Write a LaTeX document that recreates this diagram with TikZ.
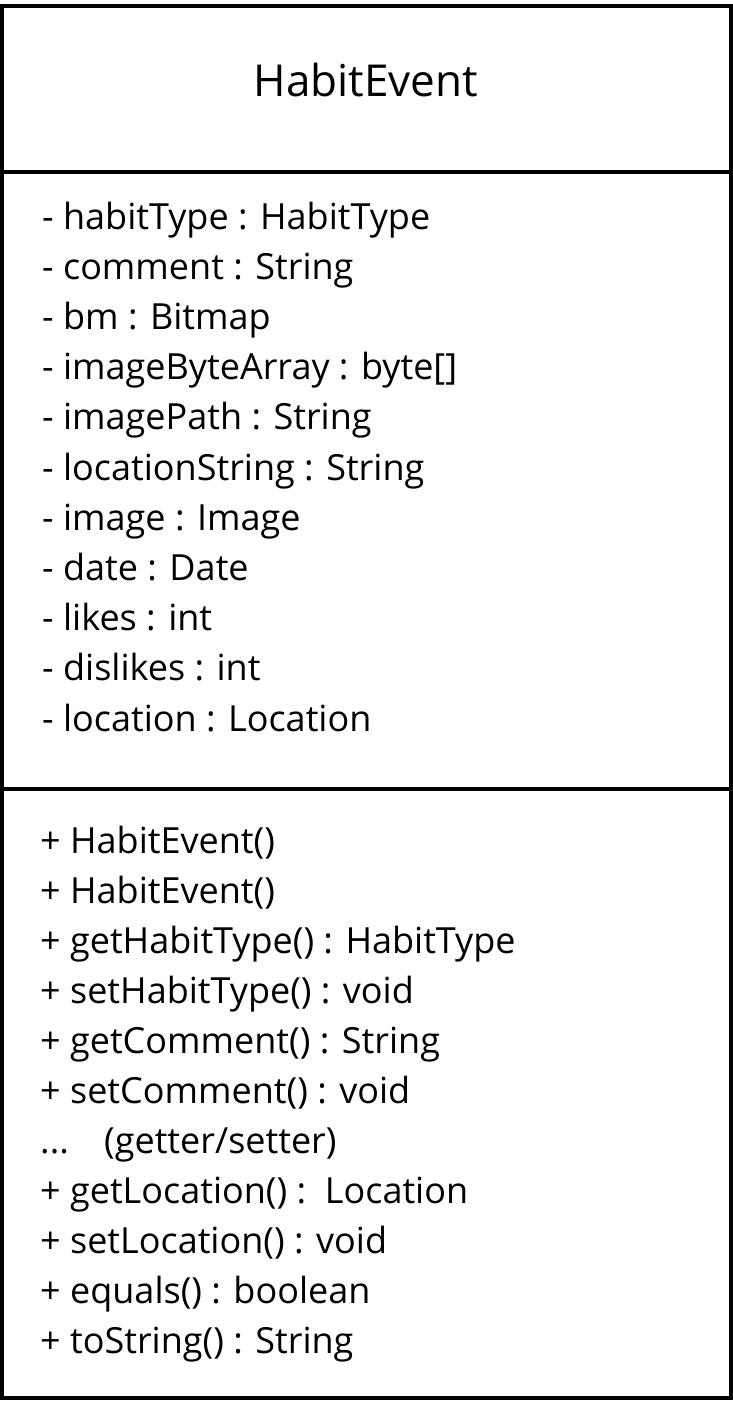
\documentclass[tikz,border=0pt]{standalone}
\usepackage{fontspec}
\setmainfont{Open Sans}
\usetikzlibrary{positioning}

\tikzset{
  member/.style={anchor=base west, inner sep=0pt, font=\fontsize{36}{43}\selectfont},
  classname/.style={anchor=base, inner sep=0pt, font=\fontsize{44}{53}\selectfont}
}

\begin{document}
\begin{tikzpicture}[x=1pt, y=-1pt]
\useasboundingbox (0,0) rectangle (733,1410);

% Class box
\draw[line width=4pt] (2,6) rectangle (731,1398);
\draw[line width=4pt] (2,172) -- (731,172);
\draw[line width=4pt] (2,789) -- (731,789);

% Name
\node[classname] (name) at (366,97) {HabitEvent};

% Attributes
\node[member] (a1) at (42,229) {- habitType : HabitType};
\node[member] (a2) at (42,279) {- comment : String};
\node[member] (a3) at (42,329) {- bm : Bitmap};
\node[member] (a4) at (42,379.5) {- imageByteArray : byte[]};
\node[member] (a5) at (42,429.5) {- imagePath : String};
\node[member] (a6) at (42,480) {- locationString : String};
\node[member] (a7) at (42,530) {- image : Image};
\node[member] (a8) at (42,580) {- date : Date};
\node[member] (a9) at (42,630.5) {- likes : int};
\node[member] (a10) at (42,680.5) {- dislikes : int};
\node[member] (a11) at (42,731) {- location : Location};

% Methods
\node[member] (m1) at (40,853) {+ HabitEvent()};
\node[member] (m2) at (40,903) {+ HabitEvent()};
\node[member] (m3) at (40,953) {+ getHabitType() : HabitType};
\node[member] (m4) at (40,1003) {+ setHabitType() : void};
\node[member] (m5) at (40,1053) {+ getComment() : String};
\node[member] (m6) at (40,1103) {+ setComment() : void};
\node[member] (m7) at (40,1153) {\makebox[64pt][l]{...}(getter/setter)};
\node[member] (m8) at (40,1203) {+ getLocation() :\ \ Location};
\node[member] (m9) at (40,1253) {+ setLocation() : void};
\node[member] (m10) at (40,1303) {+ equals() : boolean};
\node[member] (m11) at (40,1353) {+ toString() : String};
\end{tikzpicture}
\end{document}
